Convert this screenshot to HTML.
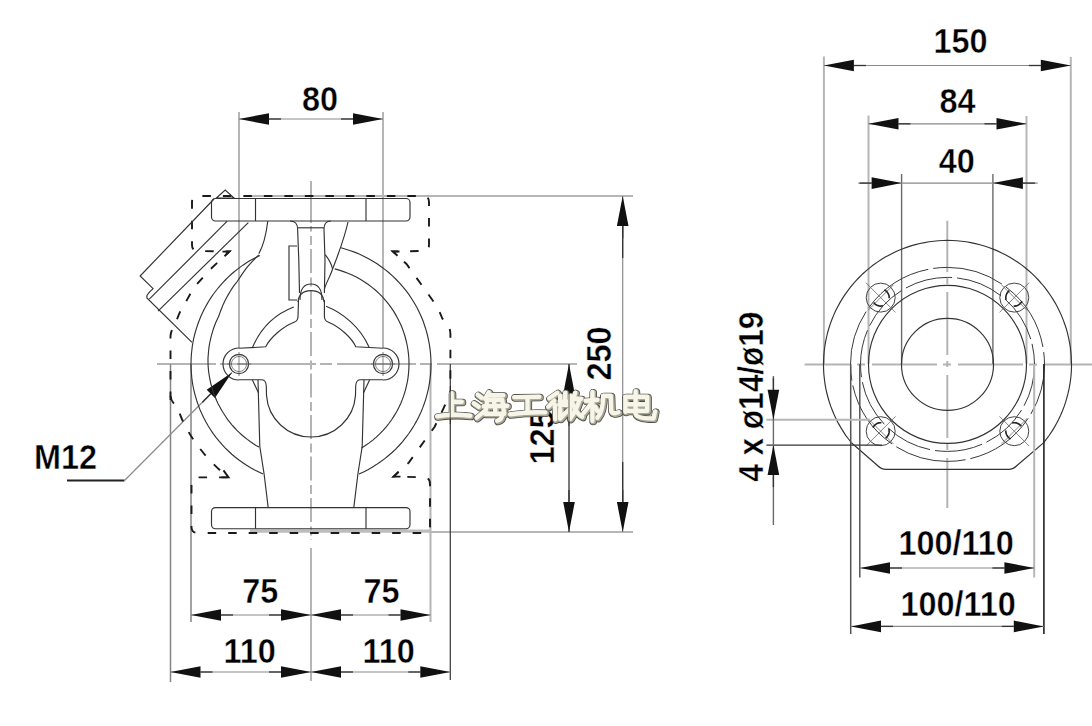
<!DOCTYPE html>
<html><head><meta charset="utf-8"><style>
html,body{margin:0;padding:0;background:#fff;}
svg{position:absolute;left:0;top:0;}
.o{fill:none;stroke:#333;stroke-width:1.15;}
.thin{fill:none;stroke:#666;stroke-width:0.8;}
.e{fill:none;stroke:#b6b6b6;stroke-width:2;}
.e3{fill:none;stroke:#6a6a6a;stroke-width:1.4;}
.e4{fill:none;stroke:#858585;stroke-width:1.5;}
.e5{fill:none;stroke:#555;stroke-width:1.5;}
.e6{fill:none;stroke:#222;stroke-width:1.6;}
.e2{fill:none;stroke:#444;stroke-width:1.3;}
.d{fill:none;stroke:#8a8a8a;stroke-width:1.2;}
.dk{fill:none;stroke:#333;stroke-width:1.3;}
.lead{fill:none;stroke:#222;stroke-width:2;}
.cl{fill:none;stroke:#b4b4b4;stroke-width:2;stroke-dasharray:42 4 6 4;}
.h{fill:none;stroke:#1a1a1a;stroke-width:1.9;stroke-dasharray:8.5 12;}
.h2{fill:none;stroke:#1a1a1a;stroke-width:1.9;}
.hd{fill:none;stroke:#3a3a3a;stroke-width:1;stroke-dasharray:22 6;}
.wm1{fill:none;stroke:#4a4a44;stroke-width:7.6;stroke-linecap:round;stroke-linejoin:round;}
.wm3{fill:none;stroke:#f6f5e8;stroke-width:4.4;stroke-linecap:round;stroke-linejoin:round;}
.wm2{fill:none;stroke:#a9a898;stroke-width:6;stroke-linecap:round;stroke-linejoin:round;}
.thr{fill:none;stroke:#222;stroke-width:1.6;}
.band{fill:none;stroke:#bdbdbd;stroke-width:3.2;}
.ar{fill:#111;stroke:none;}
.t{font-family:"Liberation Sans",sans-serif;font-weight:bold;font-size:34.5px;fill:#000;stroke:#fff;stroke-width:0.45px;}
</style></head><body>
<svg width="1092" height="726" viewBox="0 0 1092 726">
<line class="cl" x1="157" y1="364" x2="450" y2="364" style="stroke-dasharray:79 4 12 5;stroke-dashoffset:20"/>
<line class="e" x1="450.0" y1="364.0" x2="577.0" y2="364.0"/>
<line class="cl" x1="311" y1="181" x2="311" y2="223" style="stroke-dasharray:none"/>
<line class="cl" x1="311" y1="226" x2="311" y2="540" style="stroke-dasharray:24 4.5 9 4;stroke-dashoffset:18.4"/>
<line class="e" x1="311.0" y1="548.0" x2="311.0" y2="681.0"/>
<line class="e" x1="239.0" y1="112.0" x2="239.0" y2="348.0"/>
<line class="e" x1="383.0" y1="112.0" x2="383.0" y2="348.0"/>
<line class="d" x1="239.0" y1="119.0" x2="383.0" y2="119.0"/>
<polygon class="ar" points="239.0,119.0 269.0,113.2 269.0,124.8"/>
<line class="dk" x1="269.0" y1="119.0" x2="281.0" y2="119.0"/>
<polygon class="ar" points="383.0,119.0 353.0,124.8 353.0,113.2"/>
<line class="dk" x1="353.0" y1="119.0" x2="341.0" y2="119.0"/>
<text class="t" transform="translate(302.0,110.5) scale(0.94,1)" x="0" y="0">80</text>
<line class="e" x1="244.0" y1="196.0" x2="633.0" y2="196.0"/>
<line class="e" x1="430.0" y1="532.0" x2="633.0" y2="532.0"/>
<line class="band" x1="250.0" y1="531.2" x2="430.0" y2="531.2"/>
<line class="d" x1="622.7" y1="196.0" x2="622.7" y2="532.0"/>
<polygon class="ar" points="622.7,196.0 628.5,226.0 616.9,226.0"/>
<line class="dk" x1="622.7" y1="226.0" x2="622.7" y2="238.0"/>
<polygon class="ar" points="622.7,532.0 616.9,502.0 628.5,502.0"/>
<line class="dk" x1="622.7" y1="502.0" x2="622.7" y2="490.0"/>
<line class="dk" x1="622.7" y1="226.0" x2="622.7" y2="258.0"/>
<line class="dk" x1="622.7" y1="462.0" x2="622.7" y2="502.0"/>
<text class="t" transform="translate(610.5,380.5) rotate(-90) scale(0.94,1)" x="0" y="0">250</text>
<line class="dk" x1="569.0" y1="364.0" x2="569.0" y2="532.0"/>
<polygon class="ar" points="569.0,364.0 574.8,394.0 563.2,394.0"/>
<line class="dk" x1="569.0" y1="394.0" x2="569.0" y2="406.0"/>
<polygon class="ar" points="569.0,532.0 563.2,502.0 574.8,502.0"/>
<line class="dk" x1="569.0" y1="502.0" x2="569.0" y2="490.0"/>
<text class="t" transform="translate(554.0,464.5) rotate(-90) scale(0.94,1)" x="0" y="0">125</text>
<line class="e4" x1="191.0" y1="364.0" x2="191.0" y2="622.0"/>
<line class="e" x1="430.5" y1="364.0" x2="430.5" y2="622.0"/>
<line class="e4" x1="170.5" y1="364.0" x2="170.5" y2="682.0"/>
<line class="e2" x1="450.3" y1="364.0" x2="450.3" y2="680.0"/>
<line class="d" x1="191.0" y1="615.0" x2="430.5" y2="615.0"/>
<polygon class="ar" points="191.0,615.0 221.0,609.2 221.0,620.8"/>
<line class="dk" x1="221.0" y1="615.0" x2="233.0" y2="615.0"/>
<polygon class="ar" points="311.0,615.0 281.0,620.8 281.0,609.2"/>
<line class="dk" x1="281.0" y1="615.0" x2="269.0" y2="615.0"/>
<polygon class="ar" points="311.0,615.0 341.0,609.2 341.0,620.8"/>
<line class="dk" x1="341.0" y1="615.0" x2="353.0" y2="615.0"/>
<polygon class="ar" points="430.5,615.0 400.5,620.8 400.5,609.2"/>
<line class="dk" x1="400.5" y1="615.0" x2="388.5" y2="615.0"/>
<text class="t" transform="translate(242.2,603.0) scale(0.94,1)" x="0" y="0">75</text>
<text class="t" transform="translate(363.4,603.0) scale(0.94,1)" x="0" y="0">75</text>
<line class="d" x1="170.5" y1="672.0" x2="450.3" y2="672.0"/>
<polygon class="ar" points="170.5,672.0 200.5,666.2 200.5,677.8"/>
<line class="dk" x1="200.5" y1="672.0" x2="212.5" y2="672.0"/>
<polygon class="ar" points="311.0,672.0 281.0,677.8 281.0,666.2"/>
<line class="dk" x1="281.0" y1="672.0" x2="269.0" y2="672.0"/>
<polygon class="ar" points="311.0,672.0 341.0,666.2 341.0,677.8"/>
<line class="dk" x1="341.0" y1="672.0" x2="353.0" y2="672.0"/>
<polygon class="ar" points="450.3,672.0 420.3,677.8 420.3,666.2"/>
<line class="dk" x1="420.3" y1="672.0" x2="408.3" y2="672.0"/>
<text class="t" transform="translate(223.4,662.5) scale(0.94,1)" x="0" y="0">110</text>
<text class="t" transform="translate(362.5,662.5) scale(0.94,1)" x="0" y="0">110</text>
<text class="t" transform="translate(34.0,468.5) scale(0.94,1)" x="0" y="0">M12</text>
<line class="lead" x1="67.0" y1="480.5" x2="124.5" y2="480.5"/>
<line class="d" x1="124.5" y1="480.5" x2="232.0" y2="372.5"/>
<polygon class="ar" points="232.0,372.5 214.9,397.9 206.7,389.7"/>
<line class="dk" x1="210.8" y1="393.8" x2="202.4" y2="402.3"/>
<rect class="o" x="211.5" y="198.5" width="198.5" height="22.5" rx="4"/>
<line class="o" x1="255.5" y1="198.5" x2="255.5" y2="221.0"/>
<line class="o" x1="366.0" y1="198.5" x2="366.0" y2="221.0"/>
<rect class="o" x="211.5" y="507.6" width="198.5" height="21.100000000000023" rx="4"/>
<line class="o" x1="255.5" y1="507.6" x2="255.5" y2="528.7"/>
<line class="o" x1="366.0" y1="507.6" x2="366.0" y2="528.7"/>
<path class="h" d="M170.5,400 L170.5,336 Q171,330 175.4,324 Q180,310 184.5,304.4 L193.5,288 L209,270.5 L229.4,251.5 L198,251 Q192,251 192,245 L192,202 Q192,196 198,196 L423,196 Q429,196 429,202 L429,245 Q429,251 423,251 L392.8,251.5 L406.5,264 L436,305 Q440,312 442.3,318.5 Q450,324 450.4,334 L450.4,400"/>
<path class="h" d="M170.5,396 Q171,402 177.7,407 C182,425 200,455 228.5,477.4 L198,477.4 Q191.5,477.4 191.5,484 L191.5,527 Q191.5,533 198,533 L424,533 Q430,533 430,527 L430,484 Q430,477.4 424,477.4 L393.6,476.5 L408.8,462.6 L434.5,427 Q443,410 446.7,401 Q450.4,398 450.4,392"/>
<path class="h2" d="M222.5,251.6 L229.4,251.5 L224.5,256.2"/>
<path class="h2" d="M399.5,251.5 L392.8,251.5 L397.5,255.8"/>
<path class="h2" d="M221.5,477.4 L228.5,477.4 L223.5,470.4"/>
<path class="h2" d="M400.5,476.6 L393.6,476.5 L398.6,471.8"/>
<path class="o" d="M259.8,255.5 L256.4,257.2 L253.0,258.9 L249.7,260.8 L246.5,262.8 L243.3,264.9 L240.2,267.1 L237.2,269.4 L234.2,271.8 L231.3,274.3 L228.5,276.9 L225.8,279.5 L223.1,282.3 L220.6,285.1 L218.1,288.0 L215.8,291.0 L213.5,294.0 L211.3,297.1 L209.3,300.3 L207.3,303.6 L205.4,306.9 L203.7,310.3 L202.0,313.7 L200.5,317.2 L199.1,320.7 L197.8,324.3 L196.6,327.9 L195.5,331.5 L194.5,335.2 L193.6,338.9 L192.9,342.7"/>
<path class="o" d="M191.0,364.0 L191.1,368.6 L191.4,373.3 L191.8,377.9 L192.4,382.5 L193.2,387.0 L194.2,391.6 L195.4,396.1 L196.7,400.5 L198.2,404.9 L199.8,409.2 L201.7,413.5 L203.7,417.7 L205.8,421.8 L208.1,425.8 L210.6,429.7 L213.2,433.6 L216.0,437.3 L218.9,440.9 L221.9,444.4 L225.1,447.8 L228.4,451.0 L231.8,454.2 L235.4,457.2 L239.0,460.0 L242.8,462.7 L246.6,465.3 L250.6,467.7 L254.7,470.0 L258.8,472.0 L263.0,474.0"/>
<path class="o" d="M192.9,342.7 L192.3,346.2 L191.9,349.7 L191.5,353.3 L191.2,356.9 L191.1,360.4 L191.0,364.0"/>
<path class="o" d="M341.0,247.8 L345.8,249.2 L350.5,250.7 L355.2,252.4 L359.7,254.3 L364.2,256.4 L368.6,258.7 L372.9,261.2 L377.1,263.8 L381.2,266.7 L385.1,269.6 L389.0,272.8 L392.7,276.1 L396.2,279.5 L399.6,283.1 L402.9,286.8 L406.0,290.7 L409.0,294.7 L411.7,298.8 L414.3,303.0 L416.8,307.3 L419.0,311.7 L421.1,316.2 L423.0,320.8 L424.6,325.5 L426.1,330.2 L427.4,335.0 L428.5,339.8 L429.4,344.7 L430.1,349.6 L430.6,354.5 L430.9,359.5 L431.0,364.4 L430.9,369.4 L430.6,374.3 L430.0,379.2 L429.3,384.1 L428.4,389.0 L427.2,393.8 L425.9,398.6 L424.4,403.3 L422.7,407.9 L420.8,412.5 L418.7,417.0 L416.4,421.4 L413.9,425.7 L411.3,429.9 L408.5,434.0 L405.5,437.9 L402.4,441.8 L399.1,445.5 L395.7,449.1 L392.1,452.5 L388.3,455.7 L384.5,458.9 L380.5,461.8 L376.4,464.6 L372.2,467.2 L367.9,469.7 L363.5,471.9 L359.0,474.0"/>
<path class="o" d="M267.8,221 C266,236 262,248 258.9,253.6"/>
<path class="o" d="M348,222 C344,240 338,255 332.6,269"/>
<path class="o" d="M332.6,269 C330,277 326,283 324.4,289"/>
<path class="o" d="M325.2,254.6 Q331,262 332.6,269"/>
<path class="o" d="M334.7,268.9 L339.2,270.1 L343.6,271.6 L347.9,273.2 L352.1,275.0 L356.3,277.1 L360.3,279.3 L364.2,281.7 L368.0,284.3 L371.7,287.1 L375.3,290.0 L378.7,293.1 L382.0,296.4 L385.1,299.8 L388.0,303.4 L390.8,307.1 L393.4,310.9 L395.8,314.9 L398.0,318.9 L400.0,323.0 L401.9,327.3 L403.5,331.6 L404.9,336.0 L406.1,340.5 L407.1,345.0 L407.9,349.5 L408.5,354.1 L408.9,358.7 L409.0,363.3 L408.9,367.9 L408.6,372.5 L408.1,377.1 L407.4,381.7 L406.4,386.2 L405.3,390.7 L403.9,395.1 L402.4,399.4 L400.6,403.7 L398.6,407.9 L396.5,412.0 L394.1,415.9 L391.6,419.8 L388.9,423.5 L386.0,427.1 L382.9,430.6 L379.7,433.9 L376.3,437.1 L372.8,440.1 L369.2,442.9 L365.4,445.5 L361.5,448.0"/>
<path class="o" d="M258.9,254.8 L255.7,257.9 L252.6,261.1 L249.6,264.3 L246.8,267.7 L244.2,271.1 L241.8,274.6 L239.5,278.1 L237.2,281.5 L234.7,284.7 L232.4,287.9 L230.3,291.2 L228.3,294.6 L226.4,298.0 L224.6,301.4 L223.0,304.9 L221.6,308.5 L220.2,312.0 L219.0,315.6 L217.4,318.9 L215.9,322.3 L214.5,325.8 L213.3,329.2 L212.2,332.8 L211.2,336.3 L210.4,339.9 L209.6,343.5 L209.0,347.2 L208.6,350.8 L208.3,354.5 L208.0,358.2 L208.0,361.8 L208.1,365.5 L208.4,369.2 L208.8,372.8 L209.4,376.4 L210.0,380.0 L210.8,383.5 L211.8,387.1 L212.8,390.5 L214.0,394.0 L215.3,397.3 L216.7,400.7 L218.2,403.9 L219.9,407.1 L221.6,410.3 L223.5,413.3 L225.5,416.3 L227.5,419.3 L229.7,422.1 L231.9,424.8 L234.3,427.5 L236.7,430.1 L239.3,432.6 L241.9,435.0 L244.6,437.2 L247.3,439.4 L250.2,441.5 L253.1,443.5 L256.0,445.4 L259.1,447.1"/>
<path class="o" d="M290,221 Q297.6,221 297.6,229 L298.8,260 L299.5,293"/>
<path class="o" d="M331,221 Q324,221 324,229 L325,260 L324.4,293"/>
<line class="o" x1="297.6" y1="227.8" x2="324.0" y2="227.8"/>
<path class="o" d="M297,246 L289,246 L289,300 L297,300"/>
<path class="o" d="M300,300 Q300,284 311,284 Q322,284 322,300"/>
<path class="o" d="M298,302 Q299,290.6 311,290.6 Q323,290.6 324,302"/>
<path class="o" d="M298.5,300 L298,317 Q297.5,321 294.6,322 C282,327 270,338 265.7,346.8 L239,348.3"/>
<path class="o" d="M324.4,300 L324.4,317 Q325,321 328,322 C340,327 352,338 355.8,346.8 L383,348.3"/>
<path class="o" d="M293.8,307 C278,313 262,325 252.5,347.4"/>
<path class="o" d="M326,306.3 C343,313 360,327 369,347"/>
<circle class="o" cx="239.0" cy="364.0" r="9.6"/>
<circle class="thin" cx="239.0" cy="364.0" r="7.6"/>
<line class="thin" x1="227.0" y1="364.0" x2="251.0" y2="364.0"/>
<line class="thin" x1="239.0" y1="352.0" x2="239.0" y2="376.0"/>
<circle class="o" cx="383.0" cy="364.0" r="9.6"/>
<circle class="thin" cx="383.0" cy="364.0" r="7.6"/>
<line class="thin" x1="371.0" y1="364.0" x2="395.0" y2="364.0"/>
<line class="thin" x1="383.0" y1="352.0" x2="383.0" y2="376.0"/>
<path class="o" d="M239,348 A16,16 0 1 0 239,380"/>
<path class="o" d="M383,348 A16,16 0 1 1 383,380"/>
<path class="o" d="M239,379.7 L262,379.7 Q266,380 266.3,386 L266.5,395.4 A44.6,44.6 0 0 0 355.5,395.4 L355.7,386 Q356,380 360,379.7 L383,379.7"/>
<path class="o" d="M258,380 L259.8,446.5 L264.1,474 L268.2,507.6"/>
<line class="o" x1="252.4" y1="380.0" x2="258.6" y2="393.0"/>
<path class="o" d="M364,380 L362.2,446.5 L357.9,474 L353.8,507.6"/>
<line class="o" x1="369.6" y1="380.0" x2="363.4" y2="393.0"/>
<path class="o" d="M214,199 L140.1,276 L153.1,288.6 Q149,292 146.9,295.5 L146.9,298 L192,342.4"/>
<polygon class="o" points="216.4,198 225.2,190 234,198"/>
<line class="o" x1="149.3" y1="299.2" x2="227.2" y2="221.2"/>
<line class="o" x1="158.0" y1="311.2" x2="248.3" y2="222.6"/>
<line class="cl" x1="804.5" y1="364.4" x2="1092" y2="364.4" style="stroke-dasharray:65 6 8 7;stroke-dashoffset:18.5"/>
<line class="cl" x1="947.3" y1="220.7" x2="947.3" y2="508" style="stroke-dasharray:63 6 6 8;stroke-dashoffset:11.7"/>
<line class="e" x1="823.9" y1="56.4" x2="823.9" y2="364.0"/>
<line class="e" x1="1070.8" y1="57.0" x2="1070.8" y2="364.0"/>
<line class="d" x1="823.9" y1="65.5" x2="1070.8" y2="65.5"/>
<polygon class="ar" points="823.9,65.5 853.9,59.7 853.9,71.3"/>
<line class="dk" x1="853.9" y1="65.5" x2="865.9" y2="65.5"/>
<polygon class="ar" points="1070.8,65.5 1040.8,71.3 1040.8,59.7"/>
<line class="dk" x1="1040.8" y1="65.5" x2="1028.8" y2="65.5"/>
<text class="t" transform="translate(933.5,52.5) scale(0.94,1)" x="0" y="0">150</text>
<line class="e" x1="868.5" y1="115.5" x2="868.5" y2="364.0"/>
<line class="e" x1="1026.5" y1="116.0" x2="1026.5" y2="364.0"/>
<line class="d" x1="868.5" y1="123.8" x2="1026.5" y2="123.8"/>
<polygon class="ar" points="868.5,123.8 898.5,118.0 898.5,129.6"/>
<line class="dk" x1="898.5" y1="123.8" x2="910.5" y2="123.8"/>
<polygon class="ar" points="1026.5,123.8 996.5,129.6 996.5,118.0"/>
<line class="dk" x1="996.5" y1="123.8" x2="984.5" y2="123.8"/>
<text class="t" transform="translate(939.5,112.5) scale(0.94,1)" x="0" y="0">84</text>
<line class="e3" x1="901.6" y1="174.0" x2="901.6" y2="364.0"/>
<line class="e3" x1="992.9" y1="174.0" x2="992.9" y2="364.0"/>
<line class="d" x1="858.2" y1="183.1" x2="1037.7" y2="183.1"/>
<polygon class="ar" points="901.6,183.1 871.6,188.9 871.6,177.3"/>
<line class="dk" x1="871.6" y1="183.1" x2="859.6" y2="183.1"/>
<polygon class="ar" points="992.9,183.1 1022.9,177.3 1022.9,188.9"/>
<line class="dk" x1="1022.9" y1="183.1" x2="1034.9" y2="183.1"/>
<text class="t" transform="translate(938.7,172.5) scale(0.94,1)" x="0" y="0">40</text>
<path class="o" d="M851.4,442.7 L848.5,439.0 L845.7,435.3 L843.2,431.4 L840.7,427.4 L838.4,423.4 L836.3,419.2 L834.3,415.0 L832.5,410.7 L830.8,406.4 L829.3,402.0 L828.0,397.5 L826.8,393.0 L825.8,388.4 L825.0,383.8 L824.4,379.2 L823.9,374.6 L823.6,369.9 L823.5,365.3 L823.6,360.6 L823.8,355.9 L824.2,351.3 L824.8,346.7 L825.5,342.1 L826.5,337.5 L827.5,333.0 L828.8,328.5 L830.2,324.1 L831.8,319.7 L833.6,315.4 L835.5,311.1 L837.6,307.0 L839.8,302.9 L842.2,298.9 L844.8,294.9 L847.5,291.1 L850.3,287.4 L853.2,283.8 L856.3,280.3 L859.6,277.0 L862.9,273.7 L866.4,270.6 L870.0,267.6 L873.6,264.8 L877.4,262.1 L881.3,259.5 L885.3,257.1 L889.4,254.9 L893.6,252.7 L897.8,250.8 L902.1,249.0 L906.5,247.4 L910.9,245.9 L915.4,244.6 L919.9,243.5 L924.5,242.6 L929.1,241.8 L933.7,241.2 L938.3,240.7 L943.0,240.5 L947.6,240.4 L952.3,240.5 L956.9,240.8 L961.6,241.2 L966.2,241.8 L970.8,242.6 L975.4,243.6 L979.9,244.7 L984.4,246.0 L988.8,247.5 L993.1,249.1 L997.4,250.9 L1001.7,252.9 L1005.8,255.0 L1009.9,257.2 L1013.9,259.7 L1017.8,262.2 L1021.6,264.9 L1025.2,267.8 L1028.8,270.8 L1032.3,273.9 L1035.6,277.2 L1038.8,280.5 L1041.9,284.0 L1044.9,287.6 L1047.7,291.3 L1050.4,295.2 L1052.9,299.1 L1055.3,303.1 L1057.5,307.2 L1059.6,311.4 L1061.5,315.6 L1063.2,319.9 L1064.8,324.3 L1066.3,328.7 L1067.5,333.2 L1068.6,337.8 L1069.5,342.3 L1070.3,346.9 L1070.8,351.6 L1071.2,356.2 L1071.4,360.9 L1071.5,365.5 L1071.4,370.2 L1071.1,374.8 L1070.6,379.5 L1069.9,384.1 L1069.1,388.7 L1068.1,393.2 L1066.9,397.7 L1065.6,402.2 L1064.1,406.6 L1062.4,411.0 L1060.6,415.2 L1058.6,419.5 L1056.5,423.6 L1054.2,427.6 L1051.7,431.6 L1049.1,435.5 L1046.4,439.2 L1043.5,442.9"/>
<path class="o" d="M851.4,442.7 L877.5,465.5 Q881,469.4 886,469.4 L1008.5,469.4 Q1013.5,469.4 1017,465.5 L1043.5,442.9"/>
<circle class="o" cx="947.5" cy="364.4" r="46.0"/>
<circle class="hd" cx="947.5" cy="364.4" r="97" style="stroke-dasharray:72 5;stroke-dashoffset:20"/>
<circle class="hd" cx="947.5" cy="364.4" r="87" style="stroke-dasharray:48 5;stroke-dashoffset:5"/>
<circle class="o" cx="947.5" cy="364.4" r="79.0"/>
<circle class="o" cx="880.7" cy="297.6" r="14.5" style="stroke:#444;stroke-width:1"/>
<line class="thin" x1="895.5" y1="312.4" x2="865.8" y2="282.7"/>
<line class="thin" x1="868.0" y1="310.3" x2="893.4" y2="284.9"/>
<path class="thr" d="M882.9,305.8 L881.6,306.0 L880.3,306.1 L879.0,305.9 L877.8,305.6 L876.6,305.0 L875.5,304.3 L874.5,303.5 L873.7,302.5"/>
<path class="thr" d="M884.3,289.9 L885.4,290.5 L886.4,291.3 L887.3,292.3 L888.0,293.3 L888.6,294.5 L889.0,295.7 L889.2,297.0 L889.1,298.3"/>
<circle class="o" cx="1014.3" cy="297.6" r="14.5" style="stroke:#444;stroke-width:1"/>
<line class="thin" x1="999.5" y1="312.4" x2="1029.2" y2="282.7"/>
<line class="thin" x1="1001.6" y1="284.9" x2="1027.0" y2="310.3"/>
<path class="thr" d="M1006.1,299.8 L1005.9,298.5 L1005.8,297.2 L1006.0,295.9 L1006.3,294.7 L1006.9,293.5 L1007.6,292.4 L1008.4,291.4 L1009.4,290.6"/>
<path class="thr" d="M1022.0,301.2 L1021.4,302.3 L1020.6,303.3 L1019.6,304.2 L1018.6,304.9 L1017.4,305.5 L1016.2,305.9 L1014.9,306.1 L1013.6,306.0"/>
<circle class="o" cx="1014.3" cy="431.2" r="14.5" style="stroke:#444;stroke-width:1"/>
<line class="thin" x1="999.5" y1="416.4" x2="1029.2" y2="446.1"/>
<line class="thin" x1="1027.0" y1="418.5" x2="1001.6" y2="443.9"/>
<path class="thr" d="M1012.1,423.0 L1013.4,422.8 L1014.7,422.7 L1016.0,422.9 L1017.2,423.2 L1018.4,423.8 L1019.5,424.5 L1020.5,425.3 L1021.3,426.3"/>
<path class="thr" d="M1010.7,438.9 L1009.6,438.3 L1008.6,437.5 L1007.7,436.5 L1007.0,435.5 L1006.4,434.3 L1006.0,433.1 L1005.8,431.8 L1005.9,430.5"/>
<circle class="o" cx="880.7" cy="431.2" r="14.5" style="stroke:#444;stroke-width:1"/>
<line class="thin" x1="895.5" y1="416.4" x2="865.8" y2="446.1"/>
<line class="thin" x1="893.4" y1="443.9" x2="868.0" y2="418.5"/>
<path class="thr" d="M888.9,429.0 L889.1,430.3 L889.2,431.6 L889.0,432.9 L888.7,434.1 L888.1,435.3 L887.4,436.4 L886.6,437.4 L885.6,438.2"/>
<path class="thr" d="M873.0,427.6 L873.6,426.5 L874.4,425.5 L875.4,424.6 L876.4,423.9 L877.6,423.3 L878.8,422.9 L880.1,422.7 L881.4,422.8"/>
<line class="e5" x1="850.7" y1="364.0" x2="850.7" y2="634.0"/>
<line class="e6" x1="1043.9" y1="364.0" x2="1043.9" y2="634.0"/>
<line class="e5" x1="859.8" y1="364.0" x2="859.8" y2="577.5"/>
<line class="e" x1="1034.2" y1="364.0" x2="1034.2" y2="577.5"/>
<line class="d" x1="860.0" y1="568.0" x2="1034.4" y2="568.0"/>
<polygon class="ar" points="860.0,568.0 890.0,562.2 890.0,573.8"/>
<line class="dk" x1="890.0" y1="568.0" x2="902.0" y2="568.0"/>
<polygon class="ar" points="1034.4,568.0 1004.4,573.8 1004.4,562.2"/>
<line class="dk" x1="1004.4" y1="568.0" x2="992.4" y2="568.0"/>
<text class="t" transform="translate(898.4,554.5) scale(0.94,1)" x="0" y="0">100/110</text>
<line class="d" x1="851.0" y1="626.4" x2="1043.8" y2="626.4"/>
<polygon class="ar" points="851.0,626.4 881.0,620.6 881.0,632.2"/>
<line class="dk" x1="881.0" y1="626.4" x2="893.0" y2="626.4"/>
<polygon class="ar" points="1043.8,626.4 1013.8,632.2 1013.8,620.6"/>
<line class="dk" x1="1013.8" y1="626.4" x2="1001.8" y2="626.4"/>
<text class="t" transform="translate(900.4,615.5) scale(0.94,1)" x="0" y="0">100/110</text>
<line class="e" x1="766.4" y1="419.8" x2="870.0" y2="419.8"/>
<line class="dk" x1="766.4" y1="445.1" x2="882.0" y2="445.1"/>
<line class="e3" x1="773.4" y1="376.0" x2="773.4" y2="525.0"/>
<polygon class="ar" points="773.4,419.8 767.6,389.8 779.2,389.8"/>
<line class="dk" x1="773.4" y1="389.8" x2="773.4" y2="377.8"/>
<polygon class="ar" points="773.4,445.1 779.2,475.1 767.6,475.1"/>
<line class="dk" x1="773.4" y1="475.1" x2="773.4" y2="487.1"/>
<text class="t" transform="translate(762.5,481.8) rotate(-90) scale(0.94,1)" x="0" y="0" textLength="181" lengthAdjust="spacingAndGlyphs">4 x ø14/ø19</text>
<g class="wm" transform="translate(0,1.5)">
<path class="wm1" d="M452.5,392.5 L452.5,413"/>
<path class="wm1" d="M453,401 L462.5,401"/>
<path class="wm1" d="M438,415.5 Q455,413 471,415"/>
<path class="wm1" d="M478.5,394 L482.5,397"/>
<path class="wm1" d="M474.5,402.5 L479.5,406"/>
<path class="wm1" d="M477.5,417 L484.5,411"/>
<path class="wm1" d="M489.5,391.5 L486,398"/>
<path class="wm1" d="M489,394.5 L504,394.5"/>
<path class="wm1" d="M488,399 L486,413 L505,413 L503,399 Z"/>
<path class="wm1" d="M484.5,405.5 L508,405"/>
<path class="wm1" d="M495,399 L495,404 M496,408 L496,411"/>
<path class="wm1" d="M503,413 Q503,419 498,420"/>
<path class="wm1" d="M515,396.4 L540,396"/>
<path class="wm1" d="M528.3,397 L528.3,412"/>
<path class="wm1" d="M511,413.5 Q530,411 546,411.7"/>
<path class="wm1" d="M558,392 L550,397.6"/>
<path class="wm1" d="M555,400 L549,406"/>
<path class="wm1" d="M555.6,404 L556,418.6"/>
<path class="wm1" d="M561,395 L561,401 L571,401 L571,395"/>
<path class="wm1" d="M566,392 L566,400"/>
<path class="wm1" d="M560,404 L572,404"/>
<path class="wm1" d="M561,408 L561,418 Q566,412 571,408 L571,416"/>
<path class="wm1" d="M576,392 L573,401"/>
<path class="wm1" d="M574,398 L582,398"/>
<path class="wm1" d="M580,400 Q577,410 571,418"/>
<path class="wm1" d="M574,404 Q578,414 583,416"/>
<path class="wm1" d="M586.6,400 L598.2,399"/>
<path class="wm1" d="M593.2,391.3 L593.2,420"/>
<path class="wm1" d="M592,403 L584.2,412.4"/>
<path class="wm1" d="M596,406 L598,410"/>
<path class="wm1" d="M604,395.2 Q604,410 598.2,417"/>
<path class="wm1" d="M604,395 L611.5,395 L612,410 Q613,414 619.2,411.6"/>
<path class="wm1" d="M626.2,396 L626.2,411 M626,396 L648,396 L648,410 L626,410 M626,403.5 L648,403.5"/>
<path class="wm1" d="M636.4,390.6 L636.4,413 Q637,417.8 654.3,417.8 L655.8,410.8"/>
<path class="wm2" d="M452.5,392.5 L452.5,413"/>
<path class="wm2" d="M453,401 L462.5,401"/>
<path class="wm2" d="M438,415.5 Q455,413 471,415"/>
<path class="wm2" d="M478.5,394 L482.5,397"/>
<path class="wm2" d="M474.5,402.5 L479.5,406"/>
<path class="wm2" d="M477.5,417 L484.5,411"/>
<path class="wm2" d="M489.5,391.5 L486,398"/>
<path class="wm2" d="M489,394.5 L504,394.5"/>
<path class="wm2" d="M488,399 L486,413 L505,413 L503,399 Z"/>
<path class="wm2" d="M484.5,405.5 L508,405"/>
<path class="wm2" d="M495,399 L495,404 M496,408 L496,411"/>
<path class="wm2" d="M503,413 Q503,419 498,420"/>
<path class="wm2" d="M515,396.4 L540,396"/>
<path class="wm2" d="M528.3,397 L528.3,412"/>
<path class="wm2" d="M511,413.5 Q530,411 546,411.7"/>
<path class="wm2" d="M558,392 L550,397.6"/>
<path class="wm2" d="M555,400 L549,406"/>
<path class="wm2" d="M555.6,404 L556,418.6"/>
<path class="wm2" d="M561,395 L561,401 L571,401 L571,395"/>
<path class="wm2" d="M566,392 L566,400"/>
<path class="wm2" d="M560,404 L572,404"/>
<path class="wm2" d="M561,408 L561,418 Q566,412 571,408 L571,416"/>
<path class="wm2" d="M576,392 L573,401"/>
<path class="wm2" d="M574,398 L582,398"/>
<path class="wm2" d="M580,400 Q577,410 571,418"/>
<path class="wm2" d="M574,404 Q578,414 583,416"/>
<path class="wm2" d="M586.6,400 L598.2,399"/>
<path class="wm2" d="M593.2,391.3 L593.2,420"/>
<path class="wm2" d="M592,403 L584.2,412.4"/>
<path class="wm2" d="M596,406 L598,410"/>
<path class="wm2" d="M604,395.2 Q604,410 598.2,417"/>
<path class="wm2" d="M604,395 L611.5,395 L612,410 Q613,414 619.2,411.6"/>
<path class="wm2" d="M626.2,396 L626.2,411 M626,396 L648,396 L648,410 L626,410 M626,403.5 L648,403.5"/>
<path class="wm2" d="M636.4,390.6 L636.4,413 Q637,417.8 654.3,417.8 L655.8,410.8"/>
<g transform="translate(-0.8,-0.8)">
<path class="wm3" d="M452.5,392.5 L452.5,413"/>
<path class="wm3" d="M453,401 L462.5,401"/>
<path class="wm3" d="M438,415.5 Q455,413 471,415"/>
<path class="wm3" d="M478.5,394 L482.5,397"/>
<path class="wm3" d="M474.5,402.5 L479.5,406"/>
<path class="wm3" d="M477.5,417 L484.5,411"/>
<path class="wm3" d="M489.5,391.5 L486,398"/>
<path class="wm3" d="M489,394.5 L504,394.5"/>
<path class="wm3" d="M488,399 L486,413 L505,413 L503,399 Z"/>
<path class="wm3" d="M484.5,405.5 L508,405"/>
<path class="wm3" d="M495,399 L495,404 M496,408 L496,411"/>
<path class="wm3" d="M503,413 Q503,419 498,420"/>
<path class="wm3" d="M515,396.4 L540,396"/>
<path class="wm3" d="M528.3,397 L528.3,412"/>
<path class="wm3" d="M511,413.5 Q530,411 546,411.7"/>
<path class="wm3" d="M558,392 L550,397.6"/>
<path class="wm3" d="M555,400 L549,406"/>
<path class="wm3" d="M555.6,404 L556,418.6"/>
<path class="wm3" d="M561,395 L561,401 L571,401 L571,395"/>
<path class="wm3" d="M566,392 L566,400"/>
<path class="wm3" d="M560,404 L572,404"/>
<path class="wm3" d="M561,408 L561,418 Q566,412 571,408 L571,416"/>
<path class="wm3" d="M576,392 L573,401"/>
<path class="wm3" d="M574,398 L582,398"/>
<path class="wm3" d="M580,400 Q577,410 571,418"/>
<path class="wm3" d="M574,404 Q578,414 583,416"/>
<path class="wm3" d="M586.6,400 L598.2,399"/>
<path class="wm3" d="M593.2,391.3 L593.2,420"/>
<path class="wm3" d="M592,403 L584.2,412.4"/>
<path class="wm3" d="M596,406 L598,410"/>
<path class="wm3" d="M604,395.2 Q604,410 598.2,417"/>
<path class="wm3" d="M604,395 L611.5,395 L612,410 Q613,414 619.2,411.6"/>
<path class="wm3" d="M626.2,396 L626.2,411 M626,396 L648,396 L648,410 L626,410 M626,403.5 L648,403.5"/>
<path class="wm3" d="M636.4,390.6 L636.4,413 Q637,417.8 654.3,417.8 L655.8,410.8"/>
</g></g>
<line x1="450.3" y1="386" x2="450.3" y2="424" stroke="#111" stroke-width="1.2" opacity="0.55"/>
<line x1="569" y1="386" x2="569" y2="426" stroke="#111" stroke-width="1.2" opacity="0.55"/>
</svg></body></html>
